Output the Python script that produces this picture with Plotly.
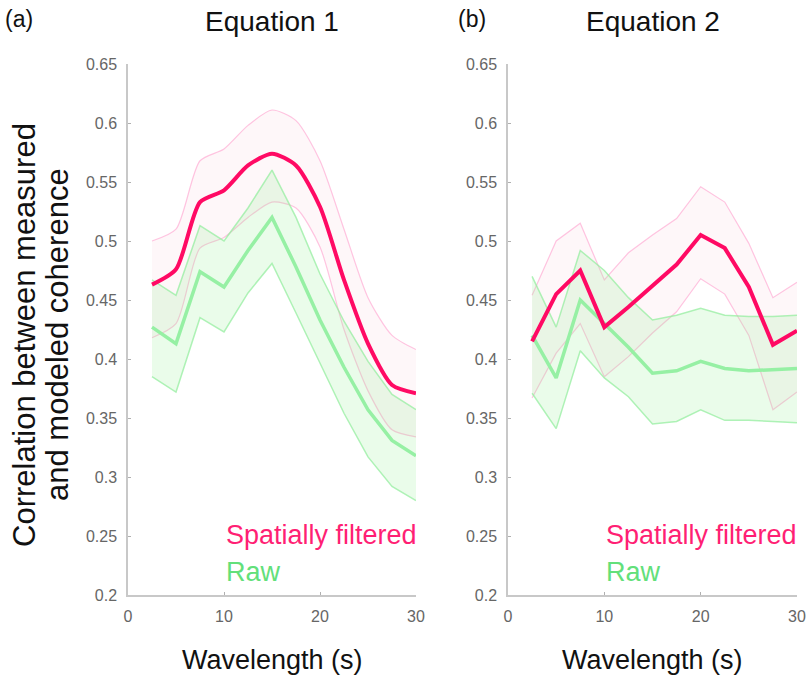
import plotly.graph_objects as go

# ---------------- data ----------------
wavelength = [2.5, 5, 7.5, 10, 12.5, 15, 17.5, 20, 22.5, 25, 27.5, 30]

# Equation 1 (a)
eq1_filt_mean = [0.463, 0.476, 0.533, 0.543, 0.564, 0.574, 0.564, 0.529, 0.467, 0.413, 0.378, 0.371]
eq1_filt_upper = [0.500, 0.510, 0.568, 0.578, 0.598, 0.611, 0.602, 0.568, 0.510, 0.452, 0.420, 0.408]
eq1_filt_lower = [0.418, 0.430, 0.494, 0.503, 0.520, 0.533, 0.528, 0.495, 0.425, 0.373, 0.340, 0.334]
eq1_raw_mean = [0.427, 0.413, 0.474, 0.461, 0.492, 0.520, 0.478, 0.433, 0.393, 0.357, 0.331, 0.318]
eq1_raw_upper = [0.467, 0.454, 0.513, 0.500, 0.528, 0.560, 0.520, 0.472, 0.432, 0.398, 0.370, 0.357]
eq1_raw_lower = [0.385, 0.372, 0.435, 0.423, 0.456, 0.481, 0.439, 0.396, 0.354, 0.317, 0.292, 0.280]

# Equation 2 (b)
eq2_filt_mean = [0.415, 0.455, 0.475, 0.427, 0.444, 0.462, 0.480, 0.505, 0.494, 0.461, 0.412, 0.424]
eq2_filt_upper = [0.454, 0.500, 0.515, 0.467, 0.490, 0.505, 0.519, 0.546, 0.533, 0.498, 0.452, 0.465]
eq2_filt_lower = [0.367, 0.405, 0.430, 0.385, 0.402, 0.422, 0.440, 0.468, 0.455, 0.420, 0.357, 0.372]
eq2_raw_mean = [0.420, 0.384, 0.450, 0.430, 0.410, 0.388, 0.390, 0.398, 0.392, 0.390, 0.391, 0.392]
eq2_raw_upper = [0.470, 0.427, 0.492, 0.475, 0.452, 0.433, 0.437, 0.443, 0.437, 0.436, 0.436, 0.437]
eq2_raw_lower = [0.371, 0.341, 0.407, 0.384, 0.368, 0.345, 0.347, 0.357, 0.348, 0.348, 0.347, 0.346]

panel_titles = ["Equation 1", "Equation 2"]
panel_letters = ["(a)", "(b)"]
legend_labels = ["Spatially filtered", "Raw"]
x_ticks = [0, 10, 20, 30]
y_ticks = [0.2, 0.25, 0.3, 0.35, 0.4, 0.45, 0.5, 0.55, 0.6, 0.65]
y_ticktext = ["0.2", "0.25", "0.3", "0.35", "0.4", "0.45", "0.5", "0.55", "0.6", "0.65"]
x_title = "Wavelength (s)"
y_title_lines = ["Correlation between measured", "and modeled coherence"]

# ---------------- style ----------------
W, H = 812, 681
PINK = "#ff0a64"
PINK_TXT = "#ff1f74"
PINK_EDGE = "rgba(255,150,200,0.55)"
PINK_FILL = "rgba(240,120,150,0.06)"
GREEN = "#96f0a4"
GREEN_TXT = "#62e07a"
GREEN_EDGE = "rgba(150,238,160,0.75)"
GREEN_FILL = "rgba(150,238,150,0.20)"
FONT = "Liberation Sans, Arial, sans-serif"

left_px = [(128, 416), (508, 797)]
top_px, bot_px = 64, 595
ydom = [1 - bot_px / H, 1 - top_px / H]

fig = go.Figure()

panels = [
    (eq1_filt_mean, eq1_filt_upper, eq1_filt_lower, eq1_raw_mean, eq1_raw_upper, eq1_raw_lower),
    (eq2_filt_mean, eq2_filt_upper, eq2_filt_lower, eq2_raw_mean, eq2_raw_upper, eq2_raw_lower),
]

for i, (fm, fu, fl, rm, ru, rl) in enumerate(panels):
    xa = "x" if i == 0 else "x2"
    ya = "y" if i == 0 else "y2"
    pshape = "spline" if i == 0 else "linear"
    # pink band
    fig.add_trace(go.Scatter(x=wavelength, y=fl, xaxis=xa, yaxis=ya, mode="lines",
                             line=dict(color=PINK_EDGE, width=1.2, shape=pshape, smoothing=0.7),
                             hoverinfo="skip", showlegend=False))
    fig.add_trace(go.Scatter(x=wavelength, y=fu, xaxis=xa, yaxis=ya, mode="lines", fill="tonexty",
                             fillcolor=PINK_FILL,
                             line=dict(color=PINK_EDGE, width=1.2, shape=pshape, smoothing=0.7),
                             hoverinfo="skip", showlegend=False))
    # green band
    fig.add_trace(go.Scatter(x=wavelength, y=rl, xaxis=xa, yaxis=ya, mode="lines",
                             line=dict(color=GREEN_EDGE, width=1.5), hoverinfo="skip", showlegend=False))
    fig.add_trace(go.Scatter(x=wavelength, y=ru, xaxis=xa, yaxis=ya, mode="lines", fill="tonexty",
                             fillcolor=GREEN_FILL, line=dict(color=GREEN_EDGE, width=1.5),
                             hoverinfo="skip", showlegend=False))
    # mean lines
    fig.add_trace(go.Scatter(x=wavelength, y=rm, xaxis=xa, yaxis=ya, mode="lines",
                             line=dict(color=GREEN, width=3.5), name=legend_labels[1], showlegend=False))
    fig.add_trace(go.Scatter(x=wavelength, y=fm, xaxis=xa, yaxis=ya, mode="lines",
                             line=dict(color=PINK, width=4, shape=pshape, smoothing=0.7),
                             name=legend_labels[0], showlegend=False))

axis_common = dict(showgrid=False, zeroline=False, showline=True, linecolor="#c8c8c8", linewidth=1.5,
                   ticks="inside", ticklen=3, tickcolor="#b0b0b0", automargin=False,
                   tickfont=dict(family=FONT, size=16, color="#666666"))

for i in range(2):
    xd = [left_px[i][0] / W, left_px[i][1] / W]
    xkey = "xaxis" if i == 0 else "xaxis2"
    ykey = "yaxis" if i == 0 else "yaxis2"
    fig.update_layout(**{
        xkey: dict(domain=xd, range=[0, 30], tickvals=x_ticks, anchor="y" if i == 0 else "y2",
                   ticklabelstandoff=6, **axis_common),
        ykey: dict(domain=ydom, range=[0.2, 0.65], tickvals=y_ticks, ticktext=y_ticktext,
                   anchor="x" if i == 0 else "x2", ticklabelstandoff=6, **axis_common),
    })

annotations = []
for i in range(2):
    cx = (left_px[i][0] + left_px[i][1]) / 2 / W
    annotations.append(dict(text=panel_titles[i], x=cx, y=1 - 21 / H, xref="paper", yref="paper",
                            showarrow=False, xanchor="center", yanchor="middle",
                            font=dict(family=FONT, size=28, color="#111111")))
    annotations.append(dict(text=panel_letters[i], x=(3 if i == 0 else 456) / W, y=1 - 19 / H,
                            xref="paper", yref="paper", showarrow=False, xanchor="left", yanchor="middle",
                            font=dict(family=FONT, size=23, color="#111111")))
    annotations.append(dict(text=x_title, x=cx, y=1 - 660 / H, xref="paper", yref="paper",
                            showarrow=False, xanchor="center", yanchor="middle",
                            font=dict(family=FONT, size=27, color="#111111")))
    xr = "x" if i == 0 else "x2"
    yr = "y" if i == 0 else "y2"
    annotations.append(dict(text=legend_labels[0], x=10, y=0.251, xref=xr, yref=yr, showarrow=False,
                            xanchor="left", yanchor="middle",
                            font=dict(family=FONT, size=27, color=PINK_TXT)))
    annotations.append(dict(text=legend_labels[1], x=10, y=0.2195, xref=xr, yref=yr, showarrow=False,
                            xanchor="left", yanchor="middle",
                            font=dict(family=FONT, size=27, color=GREEN_TXT)))

for j, line_txt in enumerate(y_title_lines):
    annotations.append(dict(text=line_txt, x=(24 if j == 0 else 57) / W, y=1 - 335 / H,
                            xref="paper", yref="paper", showarrow=False, textangle=-90,
                            xanchor="center", yanchor="middle",
                            font=dict(family=FONT, size=31, color="#111111")))

fig.update_layout(width=W, height=H, margin=dict(l=0, r=0, t=0, b=0, autoexpand=False),
                  paper_bgcolor="white", plot_bgcolor="white", showlegend=False,
                  annotations=annotations)

fig.write_html("out.html", config={"displayModeBar": False},
               post_script="document.body.style.margin='0';")
